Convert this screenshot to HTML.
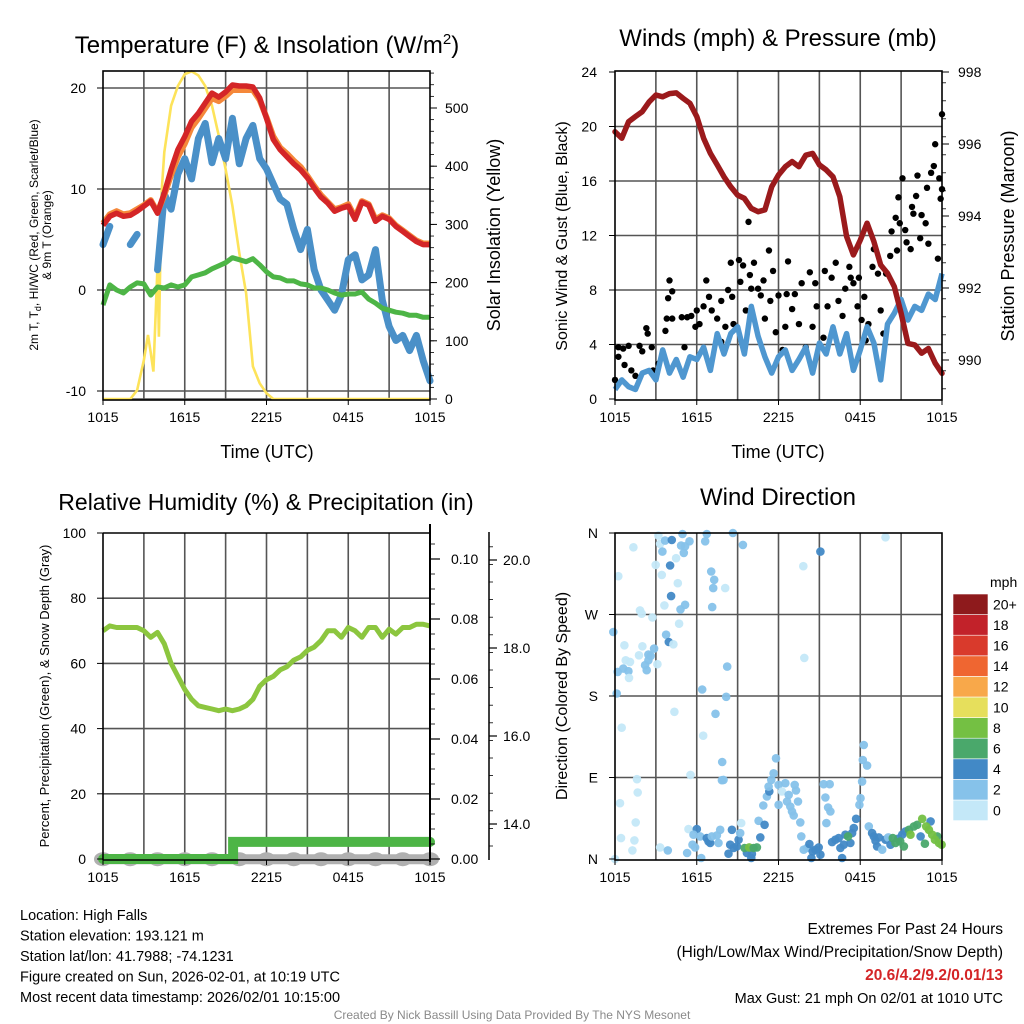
<!DOCTYPE html>
<html><head><meta charset="utf-8">
<style>
html,body{margin:0;padding:0;background:#fff;}
svg{display:block;font-family:"Liberation Sans",sans-serif;}
</style></head>
<body>
<svg id="root" width="1024" height="1024" viewBox="0 0 1024 1024" xmlns="http://www.w3.org/2000/svg"></svg>
<script>
// ---------- DATA ----------
const hours = [0,0.5,1,1.5,2,2.5,3,3.5,4,4.5,5,5.5,6,6.5,7,7.5,8,8.5,9,9.5,10,10.5,11,11.5,12,12.5,13,13.5,14,14.5,15,15.5,16,16.5,17,17.5,18,18.5,19,19.5,20,20.5,21,21.5,22,22.5,23,23.5,24];
const timeTickLabels = ["1015","1615","2215","0415","1015"];
const timeTickHours = [0,6,12,18,24];
const tempRed = [6.4,7.3,7.6,7.3,7.4,7.8,8.3,8.8,7.6,9.6,11.9,13.9,15.2,16.7,17.5,18.5,19.5,19.1,19.6,20.3,20.2,20.2,20.1,19.0,17.0,14.9,13.9,13.2,12.5,11.9,11.1,10.1,9.2,8.6,7.8,8.1,8.3,7.0,8.7,8.4,6.8,7.3,7.0,6.3,5.8,5.3,4.8,4.5,4.5];
const tempOrange = [6.6,7.5,7.8,7.5,7.6,8.0,8.4,8.9,7.7,9.4,11.4,13.2,14.5,16.1,17.0,18.0,19.0,18.7,19.2,19.8,19.8,19.8,19.8,18.8,17.1,15.2,14.1,13.5,12.8,12.2,11.3,10.3,9.4,8.7,8.0,8.2,8.5,7.2,8.8,8.5,7.0,7.4,7.1,6.4,5.9,5.4,4.9,4.6,4.6];
const tempBlue = [4.5,6.3,null,null,4.5,5.5,null,null,2.0,9.5,8.0,11.5,13.0,11.0,15.0,16.5,12.6,15.0,13.0,17.0,12.5,15.0,16.3,13.0,12.0,10.5,9.0,8.5,6.0,4.0,6.0,2.0,0.0,-1.0,-2.0,-0.5,3.0,3.5,1.0,1.5,4.0,-1.0,-3.6,-5.0,-4.5,-6.0,-4.5,-7.0,-9.0];
const dewGreen = [-1.5,0.5,0,-0.3,0.3,0.7,0.6,-0.5,0.3,0.2,0.5,0.3,0.5,1.3,1.5,1.7,2.1,2.4,2.7,3.2,3.0,2.8,3.1,2.5,1.8,1.3,1.2,0.9,0.9,0.6,0.5,0.2,0.2,0,-0.3,-0.5,-0.4,-0.4,-0.2,-0.9,-1.3,-1.8,-2.0,-2.2,-2.3,-2.5,-2.5,-2.7,-2.7];
const solarHours = [0,2,2.5,3,3.3,3.5,3.7,4,4.1,4.3,4.5,5,5.5,6,6.5,7,7.5,8,8.5,9,9.5,10,10.5,11,11.5,12,12.5,24];
const solarValues = [0,0,15,67,110,80,47,228,107,355,424,504,538,558,563,556,538,504,452,395,332,251,182,56,27,10,0,0];
const tempTicks = [-10,0,10,20];
const solarTicks = [0,100,200,300,400,500];

const pressure = [996.34,996.16,996.62,996.76,996.9,997.17,997.36,997.31,997.4,997.42,997.27,997.13,996.76,996.16,995.74,995.42,995.09,994.81,994.58,994.49,994.21,994.12,994.17,994.81,995.14,995.37,995.51,995.37,995.69,995.74,995.42,995.28,995.09,994.54,993.43,992.92,993.33,993.8,993.29,992.64,992.41,992.04,991.3,990.46,990.42,990.19,990.32,989.91,989.63];
const sonicWind = [0.7,1.4,0.9,0.7,1.9,2.1,1.4,3.6,1.9,2.9,1.6,3.1,2.9,3.8,2.1,4.8,3.3,4.8,5.3,3.3,6.8,4.6,3.1,1.9,3.1,3.6,2.1,2.9,3.8,1.9,4.1,3.3,5.3,3.3,4.8,2.1,3.6,5.3,4.1,1.4,5.5,6.3,7.3,5.8,6.8,6.5,7.7,7.3,9.2];
const gustHours = [0,0.25,0.25,0.6,0.7,1.0,1.2,1.5,1.8,2.0,2.3,2.4,2.7,2.8,3.2,3.7,3.8,3.9,4.0,4.2,4.2,4.5,4.9,5.1,5.3,5.6,5.9,6.0,6.2,6.5,6.7,6.9,7.1,7.5,7.8,7.8,8.1,8.3,8.5,8.6,8.7,9.1,9.2,9.4,9.6,9.8,9.9,10.0,10.2,10.5,10.7,10.9,11.0,11.3,11.4,11.6,11.8,12.0,12.3,12.5,12.6,12.7,13.0,13.2,13.5,13.7,14.0,14.3,14.5,14.7,14.8,15.0,15.3,15.4,15.6,15.9,16.2,16.4,16.7,16.9,17.2,17.3,17.5,17.8,17.9,18.1,18.3,18.4,18.6,18.9,19.0,19.3,19.5,19.7,19.9,20.2,20.3,20.6,20.7,20.8,20.9,21.1,21.3,21.4,21.7,21.8,21.9,22.1,22.2,22.4,22.5,22.8,22.9,23.0,23.2,23.4,23.5,23.7,23.8,23.9,24.0,24.0];
const gustValues = [1.4,3.8,3.1,3.7,2.5,3.9,2.1,1.7,3.9,3.5,5.2,4.8,3.8,2.1,2.6,5.0,5.9,7.4,8.7,7.9,5.9,2.6,6.0,3.8,6.0,6.1,5.3,6.5,5.5,6.8,8.7,7.5,6.5,5.9,7.2,4.2,5.3,8.0,10.0,7.5,5.5,10.2,8.6,9.8,6.5,13.0,9.1,8.1,10.0,8.1,7.6,8.7,5.9,10.9,7.2,9.4,4.9,7.6,3.6,5.3,7.7,10.1,6.6,7.7,5.5,8.5,3.8,9.3,5.3,8.5,6.8,3.9,4.5,9.4,6.8,8.9,10.0,7.2,6.1,8.1,9.7,8.9,8.5,6.8,8.9,5.8,7.5,4.3,5.5,9.7,11.0,9.2,6.5,4.8,9.2,10.5,12.3,13.3,10.9,14.8,12.9,16.2,12.4,11.5,11.0,14.1,13.6,14.9,16.4,11.8,13.5,12.9,15.5,11.4,16.6,17.1,18.7,10.3,16.2,14.7,15.4,20.9];
const windTicks = [0,4,8,12,16,20,24];
const pressureTicks = [990,992,994,996,998];

const rh = [70,71.5,71,71,71,71,70,68,69.5,66,60,56,52,49,47,46.5,46,45.5,46,45.5,46,47,49,53,55,56,58,59,61,62,64,65,67,70,70,68,71,70,68,71,71,68,70.5,69,71,71,72,72,71.5];
const precipHours = [0,9.55,9.55,24];
const precipValues = [0,0,0.0057,0.0057];
const snowHours = [0,24];
const snowValues = [13.2,13.2];
const rhTicks = [0,20,40,60,80,100];
const precipTicks = [0.00,0.02,0.04,0.06,0.08,0.10];
const snowTickLabels = ["20.0","18.0","16.0","14.0"];
const snowTickValues = [20,18,16,14];

const dirHours = [];
const dirDegrees = [];
const dirSpeeds = [];
const dirRaw = [[30,1003,1],[25,320,3],[40,152,1],[38,440,3],[35,505,3],[50,608,1],[45,835,1],[48,940,1],[85,65,1],[105,255,1],[110,265,1],[142,276,1],[58,360,1],[62,405,1],[75,410,1],[55,430,3],[70,438,3],[72,458,1],[102,390,1],[112,363,1],[120,420,3],[125,435,3],[130,405,3],[130,388,3],[137,392,3],[147,370,3],[157,417,1],[96,763,1],[98,803,1],[92,893,1],[88,947,1],[82,977,1],[152,118,1],[160,30,1],[165,55,1],[172,78,3],[180,45,3],[200,43,5],[232,25,3],[228,60,3],[240,62,3],[236,82,3],[253,47,3],[213,98,1],[195,120,5],[170,148,1],[218,173,1],[198,212,5],[178,240,1],[240,238,3],[226,252,3],[222,295,1],[183,328,3],[191,350,5],[205,357,1],[208,560,1],[305,25,3],[300,47,3],[318,138,3],[327,163,3],[324,188,3],[321,245,3],[360,188,1],[383,22,3],[413,58,3],[366,424,3],[291,493,3],[363,515,3],[331,566,3],[294,632,1],[351,711,3],[350,766,3],[355,765,3],[256,750,1],[645,78,5],[594,122,1],[840,35,1],[597,398,1],[165,968,1],[188,977,3],[246,985,3],[250,913,1],[275,913,5],[265,930,3],[262,960,3],[270,968,3],[288,1000,3],[285,935,3],[305,940,5],[310,950,5],[315,955,5],[320,935,3],[335,932,3],[340,955,3],[345,915,3],[380,915,5],[375,960,5],[385,970,5],[370,987,5],[400,945,5],[405,925,3],[408,895,1],[395,965,5],[425,985,5],[438,1000,5],[440,988,5],[418,970,7],[432,968,9],[445,970,7],[455,968,7],[460,888,3],[478,900,5],[465,938,5],[474,842,3],[485,815,3],[492,800,5],[490,785,3],[498,765,3],[505,745,3],[512,700,3],[520,840,3],[520,780,3],[530,800,1],[540,775,3],[545,830,3],[550,810,3],[555,845,3],[560,860,3],[565,872,3],[568,780,3],[572,797,3],[578,830,3],[585,893,3],[588,935,3],[595,975,3],[605,970,3],[612,958,5],[618,1000,5],[622,980,5],[630,975,5],[640,968,5],[645,990,5],[655,778,3],[673,778,3],[660,818,3],[668,848,3],[675,860,3],[663,895,3],[690,945,5],[680,952,5],[700,940,5],[705,970,5],[710,1000,5],[715,960,5],[720,930,5],[735,955,5],[740,925,5],[745,910,5],[752,882,5],[728,935,7],[765,820,3],[762,840,3],[770,770,3],[775,660,3],[772,705,3],[785,722,3],[790,905,3],[800,925,5],[805,935,5],[810,948,5],[815,965,5],[820,938,5],[830,975,3],[840,945,5],[848,938,3],[855,960,5],[878,942,5],[890,930,5],[900,920,5],[945,935,5],[975,890,5],[862,940,7],[870,955,7],[884,950,7],[895,965,7],[910,915,7],[925,905,7],[935,900,7],[958,957,7],[995,935,7],[915,930,9],[950,882,9],[962,905,9],[970,915,9],[980,930,9],[988,945,9],[1000,955,9],[1008,960,9]];
dirRaw.forEach(r=>{dirHours.push((r[0]-30)/40.8);dirDegrees.push((1003-r[1])*0.367);dirSpeeds.push(r[2]);});
const dirTickLabels = ["N","E","S","W","N"];
const dirTickValues = [0,90,180,270,360];
const speedBinLabels = ["0","2","4","6","8","10","12","14","16","18","20+"];
const speedBinColors = ["#c4e8f8","#86c2ea","#4289c6","#4aa86b","#74c043","#e6df5c","#f8a84a","#ef6631","#d93a2c","#c2222a","#8e1a1c"];

// ---------- HELPERS ----------
const NS="http://www.w3.org/2000/svg";
const root=document.getElementById('root');
function el(tag,attrs,parent){const e=document.createElementNS(NS,tag);for(const k in attrs)e.setAttribute(k,attrs[k]);(parent||root).appendChild(e);return e;}
function txt(s,x,y,size,anchor,parent,extra){const t=el('text',Object.assign({x:x,y:y,'font-size':size,'text-anchor':anchor||'middle',fill:'#000'},extra||{}),parent);t.textContent=s;return t;}
function lin(d0,d1,r0,r1){return v=>r0+(v-d0)/(d1-d0)*(r1-r0);}
function pathFrom(xs,ys,fx,fy){let d='',pen=false;for(let i=0;i<xs.length;i++){if(ys[i]===null){pen=false;continue;}d+=(pen?'L':'M')+fx(xs[i]).toFixed(1)+','+fy(ys[i]).toFixed(1);pen=true;}return d;}
function grid(g,x0,x1,y0,y1,fx,yVals,fy){
  for(let h=3;h<24;h+=3){el('line',{x1:fx(h),x2:fx(h),y1:y0,y2:y1,stroke:'#555','stroke-width':1.6},g);}
  yVals.forEach(v=>el('line',{x1:x0,x2:x1,y1:fy(v),y2:fy(v),stroke:'#555','stroke-width':1.6},g));
}
function frame(g,x0,x1,y0,y1){el('rect',{x:x0,y:y0,width:x1-x0,height:y1-y0,fill:'none',stroke:'#000','stroke-width':1.6},g);}
function timeAxis(g,fx,y){timeTickHours.forEach((h,i)=>{el('line',{x1:fx(h),x2:fx(h),y1:y,y2:y+5,stroke:'#000','stroke-width':1},g);txt(timeTickLabels[i],fx(h),y+22,14,'middle',g);});}

// ================= PANEL 1: Temperature =================
const p1=el('g',{});


const tx=lin(0,24,103,430), ty=lin(0,10,290,189), sy=lin(0,500,399,108);
grid(p1,103,430,71,400,tx,[20,10,0,-10],ty);
el('line',{x1:103,x2:430,y1:399,y2:399,stroke:'#555','stroke-width':1.4},p1);
const sol=el('path',{d:pathFrom(solarHours,solarValues,tx,sy),fill:'none',stroke:'#fde35a','stroke-width':2.6},p1);


const tb=el('path',{d:pathFrom(hours,tempBlue,tx,ty),fill:'none',stroke:'#4a90c8','stroke-width':7,'stroke-linejoin':'round','stroke-linecap':'round'},p1);


const tg=el('path',{d:pathFrom(hours,dewGreen,tx,ty),fill:'none',stroke:'#4db546','stroke-width':5,'stroke-linejoin':'round'},p1);


const to=el('path',{d:pathFrom(hours,tempOrange,tx,ty),fill:'none',stroke:'#f5883a','stroke-width':6,'stroke-linejoin':'round'},p1);


const tr=el('path',{d:pathFrom(hours,tempRed,tx,ty),fill:'none',stroke:'#d42527','stroke-width':5.5,'stroke-linejoin':'round'},p1);


frame(p1,103,430,71,400);
tempTicks.forEach(v=>{txt(String(v),86,ty(v)+5,14,'end',p1);el('line',{x1:97,x2:103,y1:ty(v),y2:ty(v),stroke:'#000'},p1);});
solarTicks.forEach(v=>{txt(String(v),445,sy(v)+5,14,'start',p1);el('line',{x1:430,x2:437,y1:sy(v),y2:sy(v),stroke:'#000'},p1);});
for(let v=0;v<=560;v+=20){el('line',{x1:430,x2:434,y1:sy(v),y2:sy(v),stroke:'#000','stroke-width':0.8},p1);}
timeAxis(p1,tx,400);
const t1=el('text',{x:267,y:53,'font-size':24,'text-anchor':'middle'},p1);


t1.innerHTML='Temperature (F) &amp; Insolation (W/m<tspan dy="-9" font-size="15">2</tspan><tspan dy="9">)</tspan>';
const x1t=txt('Time (UTC)',267,458,18,'middle',p1);


const y1t=el('text',{transform:'translate(38,235) rotate(-90)','font-size':12,'text-anchor':'middle'},p1);


y1t.innerHTML='<tspan x="0" dy="0">2m T, T<tspan font-size="9" dy="3">d</tspan><tspan dy="-3">, HI/WC (Red, Green, Scarlet/Blue)</tspan></tspan><tspan x="0" dy="13">&amp; 9m T (Orange)</tspan>';
const y1r=txt('Solar Insolation (Yellow)',0,0,18,'middle',p1,{transform:'translate(500,235) rotate(-90)'});



// ================= PANEL 2: Winds =================
const p2=el('g',{});


const wx=lin(0,24,615,942), wy=lin(0,24,399,72), py=lin(990,998,360,72);
grid(p2,615,942,71,400,wx,[4,8,12,16,20],wy);
gustHours.forEach((h,i)=>{const c=el('circle',{cx:wx(h),cy:wy(gustValues[i]),r:3.2,fill:'#000'},p2);

});
const sw=el('path',{d:pathFrom(hours,sonicWind,wx,wy),fill:'none',stroke:'#4f97d0','stroke-width':5.5,'stroke-linejoin':'round'},p2);


const pr=el('path',{d:pathFrom(hours,pressure,wx,py),fill:'none',stroke:'#9b1a1c','stroke-width':5.5,'stroke-linejoin':'round','stroke-linecap':'round'},p2);


frame(p2,615,942,71,400);
windTicks.forEach(v=>{txt(String(v),597,wy(v)+5,14,'end',p2);el('line',{x1:609,x2:615,y1:wy(v),y2:wy(v),stroke:'#000'},p2);});
pressureTicks.forEach(v=>{txt(String(v),958,py(v)+5,14,'start',p2);el('line',{x1:942,x2:949,y1:py(v),y2:py(v),stroke:'#000'},p2);});
for(let v=989.2;v<998;v+=0.5){el('line',{x1:942,x2:946,y1:py(v),y2:py(v),stroke:'#000','stroke-width':0.8},p2);}
timeAxis(p2,wx,400);
const t2=txt('Winds (mph) & Pressure (mb)',778,46,24,'middle',p2);


const x2t=txt('Time (UTC)',778,458,18,'middle',p2);


const y2l=txt('Sonic Wind & Gust (Blue, Black)',0,0,16,'middle',p2,{transform:'translate(567,236) rotate(-90)'});


const y2r=txt('Station Pressure (Maroon)',0,0,18,'middle',p2,{transform:'translate(1014,236) rotate(-90)'});



// ================= PANEL 3: RH =================
const p3=el('g',{});


const rx=lin(0,24,103,430), ry=lin(0,100,859,533), ppy=lin(0,0.10,859,559), sny=lin(14,20,824,560);
grid(p3,103,430,533,860,rx,[20,40,60,80],ry);
const sn=el('path',{d:pathFrom(snowHours,snowValues,rx,sny),fill:'none',stroke:'#b0b0b0','stroke-width':10,'stroke-linecap':'round'},p3);


for(let h=0;h<=24;h+=2){el('ellipse',{cx:rx(h),cy:sny(snowValues[0]),rx:9,ry:7,fill:'#b0b0b0'},p3);}
const pp=el('path',{d:pathFrom(precipHours,precipValues,rx,ppy),fill:'none',stroke:'#4db546','stroke-width':10,'stroke-linecap':'round'},p3);


const rl=el('path',{d:pathFrom(hours,rh,rx,ry),fill:'none',stroke:'#8cc63f','stroke-width':5,'stroke-linejoin':'round'},p3);


el('line',{x1:103,x2:103,y1:533,y2:860,stroke:'#000','stroke-width':1.6},p3);
el('line',{x1:103,x2:430,y1:533,y2:533,stroke:'#000','stroke-width':1.6},p3);
el('line',{x1:103,x2:430,y1:860,y2:860,stroke:'#000','stroke-width':1.6},p3);
el('line',{x1:430,x2:430,y1:524,y2:862,stroke:'#000','stroke-width':2},p3);
rhTicks.forEach(v=>{txt(String(v),86,ry(v)+5,14,'end',p3);el('line',{x1:97,x2:103,y1:ry(v),y2:ry(v),stroke:'#000'},p3);});
precipTicks.forEach(v=>{txt(v.toFixed(2),451,ppy(v)+5,14,'start',p3);el('line',{x1:430,x2:440,y1:ppy(v),y2:ppy(v),stroke:'#000','stroke-width':1.2},p3);});
for(let v=0.005;v<0.11;v+=0.005){el('line',{x1:430,x2:435,y1:ppy(v),y2:ppy(v),stroke:'#000','stroke-width':0.8},p3);}
el('line',{x1:489,x2:489,y1:532,y2:860,stroke:'#000','stroke-width':1.5},p3);
snowTickValues.forEach((v,i)=>{txt(snowTickLabels[i],503,sny(v)+5,14,'start',p3);el('line',{x1:489,x2:497,y1:sny(v),y2:sny(v),stroke:'#000','stroke-width':1.2},p3);});
for(let v=13.5;v<20.6;v+=0.4){el('line',{x1:489,x2:493,y1:sny(v),y2:sny(v),stroke:'#000','stroke-width':0.8},p3);}
timeAxis(p3,rx,860);
const t3=txt('Relative Humidity (%) & Precipitation (in)',266,510,23,'middle',p3);


const y3l=txt('Percent, Precipitation (Green), & Snow Depth (Gray)',0,0,13,'middle',p3,{transform:'translate(49,696) rotate(-90)'});



// ================= PANEL 4: Wind Direction =================
const p4=el('g',{});


const dx=lin(0,24,615,942), dy=lin(0,360,859,533);
grid(p4,615,942,533,860,dx,[90,180,270],dy);
function binColor(s){let i=Math.min(10,Math.max(0,Math.floor(s/2)));return speedBinColors[i];}
dirHours.forEach((h,i)=>{const c=el('circle',{cx:dx(h).toFixed(1),cy:dy(dirDegrees[i]).toFixed(1),r:4.3,fill:binColor(dirSpeeds[i]),'fill-opacity':0.95},p4);

});
frame(p4,615,942,533,860);
dirTickValues.forEach((v,i)=>{txt(dirTickLabels[i],598,dy(v)+5,14,'end',p4);el('line',{x1:609,x2:615,y1:dy(v),y2:dy(v),stroke:'#000'},p4);});
timeAxis(p4,dx,860);
const t4=txt('Wind Direction',778,505,24,'middle',p4);


const y4l=txt('Direction (Colored By Speed)',0,0,16,'middle',p4,{transform:'translate(567,696) rotate(-90)'});


const cb=el('g',{},p4);


const cbTop=594, cbH=20.6;
speedBinColors.forEach((c,i)=>{const k=10-i;el('rect',{x:953,y:cbTop+k*cbH,width:35,height:cbH,fill:c,stroke:'#fff','stroke-width':0.6},cb);
txt(speedBinLabels[i],993,cbTop+k*cbH+cbH/2+5,14,'start',cb);});
txt('mph',990,587,14,'start',cb);

// ================= TEXT BLOCKS =================
const info=el('g',{});


["Location: High Falls","Station elevation: 193.121 m","Station lat/lon: 41.7988; -74.1231","Figure created on Sun, 2026-02-01, at 10:19 UTC","Most recent data timestamp: 2026/02/01 10:15:00"].forEach((s,i)=>txt(s,20,920+i*20.5,14.5,'start',info));
const ext=el('g',{});


txt('Extremes For Past 24 Hours',1003,934,15.5,'end',ext);
txt('(High/Low/Max Wind/Precipitation/Snow Depth)',1003,957,15.5,'end',ext);
txt('20.6/4.2/9.2/0.01/13',1003,980,15.5,'end',ext,{fill:'#d42527','font-weight':'bold'});
txt('Max Gust: 21 mph On 02/01 at 1010 UTC',1003,1003,14.5,'end',ext);
const cr=txt('Created By Nick Bassill Using Data Provided By The NYS Mesonet',512,1019,12,'middle',null,{fill:'#8a8a8a'});


</script>
</body></html>
